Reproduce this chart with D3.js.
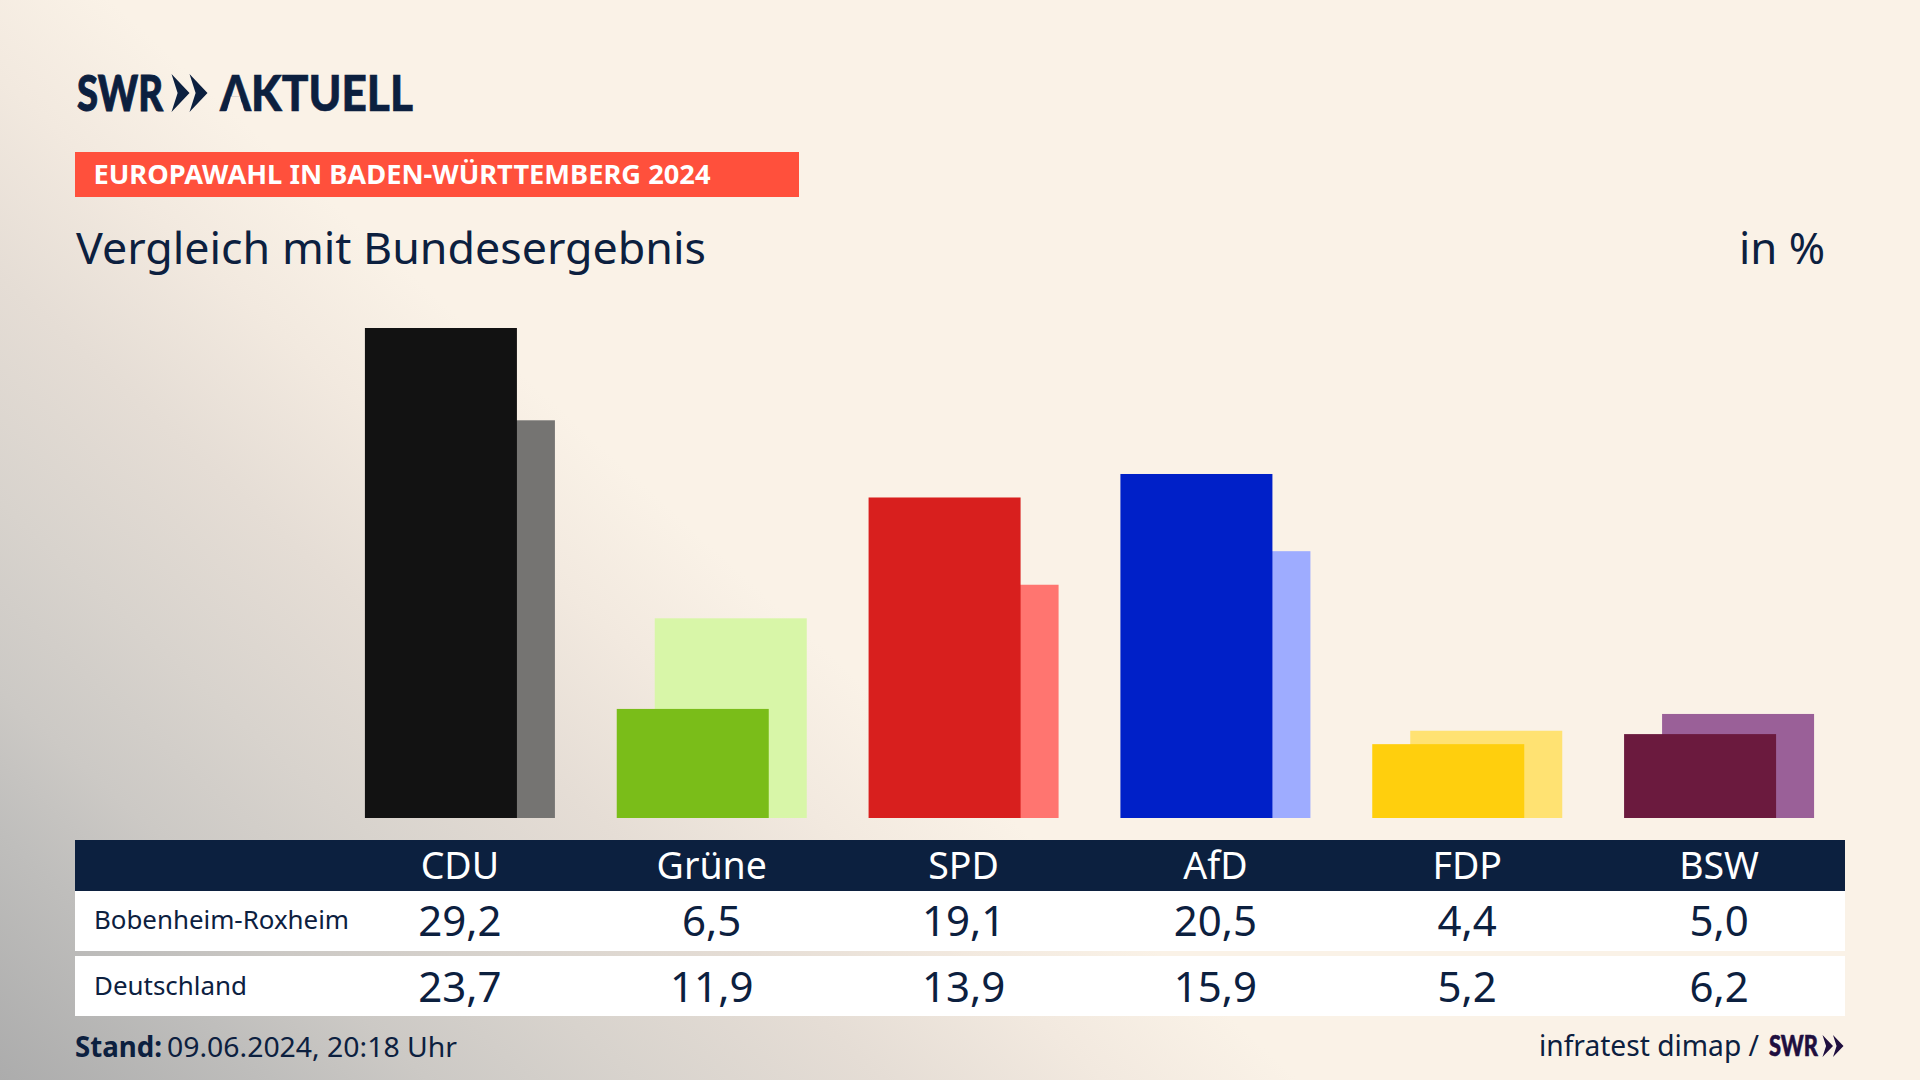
<!DOCTYPE html>
<html lang="de">
<head>
<meta charset="utf-8">
<script src="https://cdn.jsdelivr.net/npm/d3@7"></script>
<style>
html, body { margin: 0; padding: 0; background: #faf2e7; }
svg { display: block; }
text { font-family: "Noto Sans", sans-serif; }
</style>
</head>
<body>
<div id="chart"></div>
<script>
const parties = ['CDU', 'Grüne', 'SPD', 'AfD', 'FDP', 'BSW'];
const local = [29.2, 6.5, 19.1, 20.5, 4.4, 5.0];
const national = [23.7, 11.9, 13.9, 15.9, 5.2, 6.2];
const localColors = ['#121212', '#7abd19', '#d81f1e', '#0020c8', '#ffcf0d', '#6b1a3e'];
const nationalColors = ['#757472', '#d8f6a8', '#ff7570', '#9eacff', '#ffe272', '#9a6098'];
const rowNames = ['Bobenheim-Roxheim', 'Deutschland'];

const navy = '#0c203f';
const width = 1920, height = 1080;

const svg = d3.select('#chart').append('svg')
    .attr('width', width)
    .attr('height', height);

//background: straight gradient out of the bottom left corner
const a = 1300, b = 1180;
const k = 1 / (1 / (a * a) + 1 / (b * b));
const grad = svg.append('defs').append('linearGradient')
    .attr('id', 'bg')
    .attr('gradientUnits', 'userSpaceOnUse')
    .attr('x1', 0).attr('y1', 1080)
    .attr('x2', k / a).attr('y2', 1080 - k / b);
[[0, '#acacac'], [0.21, '#bfbebc'], [0.33, '#ccc9c5'], [0.49, '#d8d3cd'], [0.68, '#e5ddd5'], [0.85, '#f2e9df'], [1, '#faf2e7']].forEach(s => {
    grad.append('stop').attr('offset', s[0]).attr('stop-color', s[1]);
});
svg.append('rect').attr('width', width).attr('height', height).attr('fill', 'url(#bg)');

function label(x, y, str, size, len, opts) {
    opts = opts || {};
    const t = svg.append('text')
        .attr('x', x)
        .attr('y', y)
        .attr('font-size', size)
        .attr('font-weight', opts.weight || 400)
        .attr('fill', opts.fill || navy)
        .attr('text-anchor', opts.anchor || 'start')
        .text(str);
    if (opts.family) t.style('font-family', opts.family);
    if (opts.stroke) t.attr('stroke', opts.fill || navy).attr('stroke-width', opts.stroke);
    if (len) t.attr('textLength', len).attr('lengthAdjust', 'spacingAndGlyphs');
    return t;
}

function chevrons(x, y, w, h, fill) {
    //two arrows, used in both logos
    const aw = w * 0.5, notch = w * 0.17;
    [0, w - aw].forEach(dx => {
        svg.append('path')
            .attr('d', `M${x + dx},${y} L${x + dx + aw},${y + h / 2} L${x + dx},${y + h} L${x + dx + notch},${y + h / 2} Z`)
            .attr('fill', fill);
    });
}

//logo
label(77, 111, 'SWR', 50, 86, { weight: 900, family: 'Lato', stroke: 1 });
chevrons(171.5, 74, 36, 38, navy);
label(220, 111, 'AKTUELL', 50, 193, { weight: 900, family: 'Lato', stroke: 0.6 });
//the A of the logo has no crossbar
svg.append('path')
    .attr('d', 'M226.8,112 L244.3,112 L239.9,96.5 L230.9,96.5 Z')
    .attr('fill', 'url(#bg)');

//banner
svg.append('rect').attr('x', 75).attr('y', 152).attr('width', 724).attr('height', 45).attr('fill', '#ff503c');
label(93.5, 184, 'EUROPAWAHL IN BADEN-WÜRTTEMBERG 2024', 26, 617, { weight: 700, fill: '#fff' });

//title
label(76, 264, 'Vergleich mit Bundesergebnis', 43, 630);
label(1825, 264, 'in %', 43, 86, { anchor: 'end' });

//scales
const x = d3.scaleBand()
    .domain(parties)
    .range([334, 1845]);
const y = d3.scaleLinear().domain([0, 29.2]).range([818, 328]);
const barW = 152, barShift = 38;
const groupLeft = p => x(p) + x.bandwidth() / 2 - (barW + barShift) / 2;

const rows = parties.map((p, i) => ({ party: p, local: local[i], national: national[i], i: i }));

//national results sit behind the local ones
svg.selectAll('.national').data(rows).join('rect')
    .attr('class', 'national')
    .attr('x', d => groupLeft(d.party) + barShift)
    .attr('y', d => y(d.national))
    .attr('width', barW)
    .attr('height', d => y(0) - y(d.national))
    .attr('fill', d => nationalColors[d.i]);

svg.selectAll('.local').data(rows).join('rect')
    .attr('class', 'local')
    .attr('x', d => groupLeft(d.party))
    .attr('y', d => y(d.local))
    .attr('width', barW)
    .attr('height', d => y(0) - y(d.local))
    .attr('fill', d => localColors[d.i]);

//table
svg.append('rect').attr('x', 75).attr('y', 840).attr('width', 1770).attr('height', 51).attr('fill', navy);
svg.append('rect').attr('x', 75).attr('y', 891).attr('width', 1770).attr('height', 60).attr('fill', '#fff');
svg.append('rect').attr('x', 75).attr('y', 956).attr('width', 1770).attr('height', 60).attr('fill', '#fff');

const fmt = v => v.toFixed(1).replace('.', ',');
const cx = p => x(p) + x.bandwidth() / 2;

parties.forEach((p, i) => {
    label(cx(p), 879, p, 37.5, null, { anchor: 'middle', fill: '#fff' });
    label(cx(p), 936, fmt(local[i]), 42, null, { anchor: 'middle' });
    label(cx(p), 1002, fmt(national[i]), 42, null, { anchor: 'middle' });
});
label(94, 929, rowNames[0], 26, 255);
label(94, 995, rowNames[1], 26, 153);

//footer
label(75, 1057, 'Stand:', 28, 87, { weight: 700 });
label(167, 1057, '09.06.2024, 20:18 Uhr', 28, 290);
label(1539, 1056, 'infratest dimap /', 29, 220);
label(1769, 1056, 'SWR', 28, 49, { weight: 900, fill: '#1f0f3f', family: 'Lato', stroke: 0.6 });
chevrons(1822.5, 1035, 21, 22, '#1f0f3f');
</script>
</body>
</html>
